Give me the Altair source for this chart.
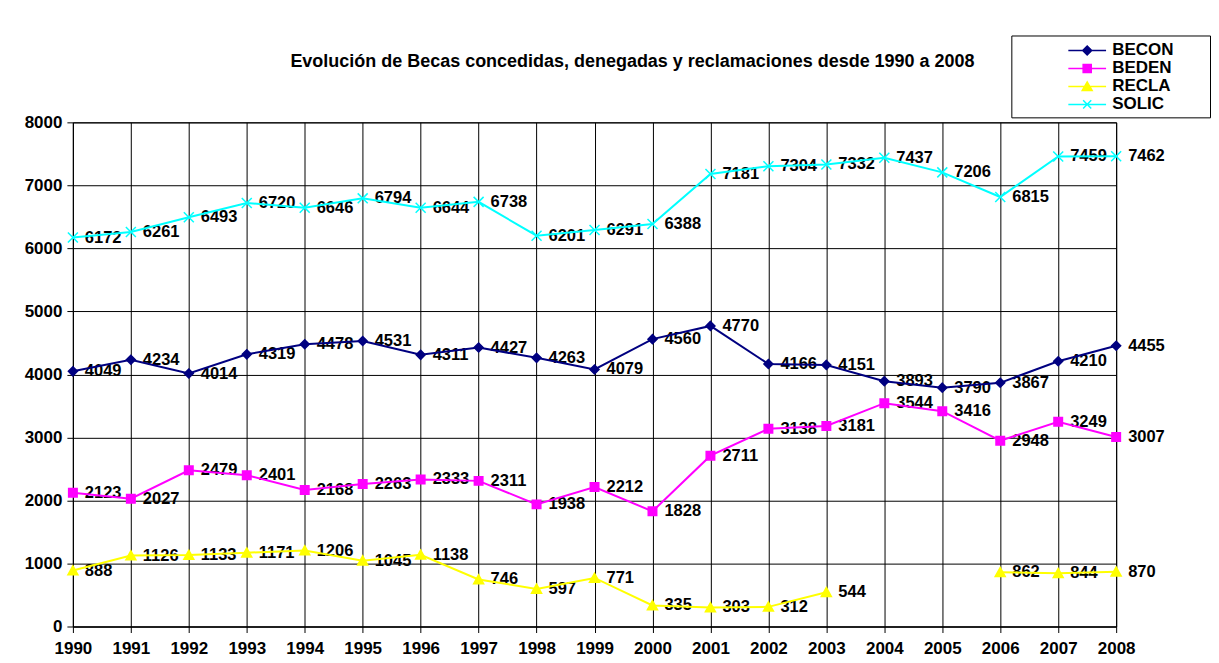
import altair as alt
import pandas as pd

years = list(range(1990, 2009))
series = ["BECON", "BEDEN", "RECLA", "SOLIC"]
becon = [4049, 4234, 4014, 4319, 4478, 4531, 4311, 4427, 4263, 4079, 4560, 4770, 4166, 4151, 3893, 3790, 3867, 4210, 4455]
beden = [2123, 2027, 2479, 2401, 2168, 2263, 2333, 2311, 1938, 2212, 1828, 2711, 3138, 3181, 3544, 3416, 2948, 3249, 3007]
recla = [888, 1126, 1133, 1171, 1206, 1045, 1138, 746, 597, 771, 335, 303, 312, 544, None, None, 862, 844, 870]
solic = [6172, 6261, 6493, 6720, 6646, 6794, 6644, 6738, 6201, 6291, 6388, 7181, 7304, 7332, 7437, 7206, 6815, 7459, 7462]
colors = ["#000080", "#ff00ff", "#ffff00", "#00ffff"]
y_ticks = list(range(0, 8001, 1000))
title_text = "Evolución de Becas concedidas, denegadas y reclamaciones desde 1990 a 2008"

marker_paths = [
    "M0,-0.9L0.9,0L0,0.9L-0.9,0Z",
    "M-0.85,-0.85L0.85,-0.85L0.85,0.85L-0.85,0.85Z",
    "M-1,0.85L0,-0.95L1,0.85Z",
    "M-1,-1L1,1M-1,1L1,-1",
]
legend_paths = [
    "M-2.1,0L2.1,0M0,-0.5L0.5,0L0,0.5L-0.5,0Z",
    "M-2.1,0L2.1,0M-0.45,-0.45L0.45,-0.45L0.45,0.45L-0.45,0.45Z",
    "M-2.1,0L2.1,0M-0.55,0.45L0,-0.5L0.55,0.45Z",
    "M-2.1,0L2.1,0M-0.45,-0.45L0.45,0.45M-0.45,0.45L0.45,-0.45",
]

rows = []
for name, vals in zip(series, [becon, beden, recla, solic]):
    seg = 0
    for yr, v in zip(years, vals):
        if v is None:
            seg += 1
            continue
        rows.append({"year": yr, "serie": name, "value": v, "seg": f"{name}{seg}"})
df = pd.DataFrame(rows)

FONT = "Liberation Sans"

x = alt.X("year:Q", scale=alt.Scale(domain=[1990, 2008], nice=False, zero=False),
          axis=alt.Axis(values=years, format="d", title=None, tickSize=6, labelPadding=8,
                        labelFlush=False))
y = alt.Y("value:Q", scale=alt.Scale(domain=[0, 8000], nice=False),
          axis=alt.Axis(values=y_ticks, format="d", title=None, tickSize=6, labelPadding=5))

base = alt.Chart(df)

text = base.mark_text(align="left", baseline="middle", dx=12, fontSize=16.5,
                      fontWeight="bold", font=FONT, color="black").encode(
    x=x, y=y, text=alt.Text("value:Q", format="d"))

lines = base.mark_line(strokeWidth=2).encode(
    x=x, y=y, detail="seg:N",
    color=alt.Color("serie:N", scale=alt.Scale(domain=series, range=colors), legend=None))

points = base.mark_point(filled=True, size=100, strokeWidth=1.5, opacity=1).encode(
    x=x, y=y,
    shape=alt.Shape("serie:N", scale=alt.Scale(domain=series, range=marker_paths), legend=None),
    fill=alt.Fill("serie:N", scale=alt.Scale(domain=series, range=colors), legend=None),
    stroke=alt.Stroke("serie:N", scale=alt.Scale(domain=series, range=colors), legend=None),
)

leg = alt.Legend(
    title=".", titleOrient="right", titleOpacity=0, titleFontSize=1, titlePadding=31,
    orient="none", legendX=940, legendY=-87, direction="vertical",
    strokeColor="black", fillColor="white", padding=5,
    symbolSize=324, symbolOffset=61, labelOffset=15, rowPadding=0,
    labelFont=FONT, labelFontSize=17, labelFontWeight="bold", labelColor="black",
    symbolStrokeWidth=1.5,
)
legend_layer = base.transform_filter("false").mark_point(
    filled=True, size=324, strokeWidth=1.5, opacity=1).encode(
    shape=alt.Shape("serie:N", scale=alt.Scale(domain=series, range=legend_paths), legend=leg),
    fill=alt.Fill("serie:N", scale=alt.Scale(domain=series, range=colors), legend=leg),
    stroke=alt.Stroke("serie:N", scale=alt.Scale(domain=series, range=colors), legend=leg),
)

chart = alt.layer(text, lines, points, legend_layer).resolve_scale(
    shape="independent", fill="independent", stroke="independent"
).properties(
    width=1045, height=505,
    title=alt.TitleParams(title_text, fontSize=18, fontWeight="bold", font=FONT,
                          color="black", anchor="middle", dx=38, offset=-36),
    autosize=alt.AutoSizeParams(type="none"),
    padding={"left": 65, "top": 114, "right": 95, "bottom": 30},
).configure(background="white").configure_view(
    stroke="black", strokeWidth=1, fill="white"
).configure_axis(
    domainColor="black", tickColor="black", gridColor="black", gridOpacity=1,
    gridWidth=1, domainWidth=1, tickWidth=1,
    labelFont=FONT, labelFontSize=17, labelFontWeight="bold", labelColor="black",
)

chart.save("out.html", embed_options={"renderer": "svg", "actions": False})
